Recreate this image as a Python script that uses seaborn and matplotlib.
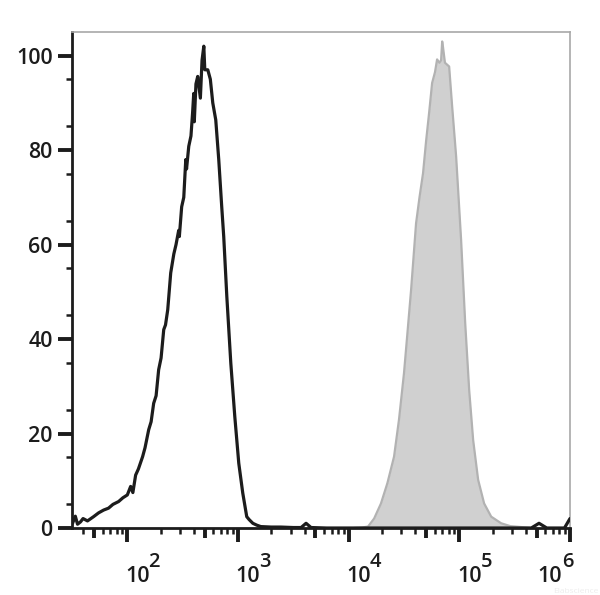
import numpy as np
import pandas as pd
import matplotlib
matplotlib.use("Agg")
import matplotlib.pyplot as plt
import matplotlib.ticker as mticker
import seaborn as sns

# control (unstained) - black outline, x given as log10 of intensity
ctrl_exp = [1.505, 1.53, 1.55, 1.577, 1.60, 1.64, 1.695, 1.74, 1.786, 1.83,
            1.87, 1.921, 1.96, 2.00, 2.030, 2.05, 2.075, 2.10, 2.138, 2.16,
            2.193, 2.215, 2.238, 2.26, 2.283, 2.305, 2.329, 2.345, 2.365, 2.392,
            2.42, 2.44, 2.464, 2.47, 2.491, 2.51, 2.528, 2.535, 2.555, 2.575,
            2.590, 2.600, 2.605, 2.620, 2.636, 2.66, 2.675, 2.691, 2.70, 2.727,
            2.75, 2.772, 2.799, 2.826, 2.853, 2.871, 2.899, 2.935, 2.971, 3.007,
            3.043, 3.079, 3.10, 3.134, 3.17, 3.206, 3.30, 3.387, 3.50, 3.57,
            3.615, 3.66, 3.80, 4.02, 4.5, 4.93, 5.3, 5.65, 5.72, 5.79,
            5.95, 6.0]
ctrl_val = [1.0, 2.5, 0.8, 1.3, 2.0, 1.5, 2.4, 3.2, 3.8, 4.2,
            5.0, 5.6, 6.4, 7.0, 8.8, 7.5, 11.2, 12.5, 15.1, 17.0,
            20.8, 22.5, 26.4, 28.0, 33.5, 36.0, 42.0, 43.0, 46.2, 54.0,
            58.0, 60.0, 63.0, 61.7, 68.0, 70.0, 78.0, 76.0, 80.8, 83.0,
            88.0, 92.0, 86.0, 94.0, 95.6, 91.0, 99.0, 102.0, 97.0, 97.0,
            95.0, 90.0, 86.4, 78.0, 68.0, 61.7, 49.0, 34.9, 23.6, 13.7,
            7.4, 2.4, 1.8, 1.0, 0.6, 0.3, 0.2, 0.2, 0.1, 0.1,
            1.0, 0.1, 0.0, 0.0, 0.0, 0.0, 0.0, 0.0, 1.0, 0.0,
            0.0, 2.0]

# stained sample - grey filled
stain_exp = [4.05, 4.12, 4.175, 4.23, 4.292, 4.35, 4.410, 4.455, 4.500, 4.530,
             4.564, 4.609, 4.64, 4.672, 4.70, 4.727, 4.754, 4.78, 4.799, 4.82,
             4.835, 4.845, 4.853, 4.87, 4.908, 4.935, 4.971, 5.016, 5.053, 5.089,
             5.125, 5.170, 5.224, 5.288, 5.378, 5.46, 5.559, 5.65]
stain_val = [0.0, 0.1, 0.3, 2.0, 5.2, 9.5, 15.1, 23.0, 32.8, 41.0,
             50.4, 64.5, 70.0, 75.1, 82.0, 87.9, 94.2, 96.5, 99.2, 98.5,
             99.0, 103.0, 101.7, 98.5, 97.7, 89.3, 78.7, 61.0, 43.4, 29.2,
             18.6, 10.2, 5.2, 2.4, 1.0, 0.4, 0.2, 0.0]

decades = [2, 3, 4, 5, 6]
y_major = [0, 20, 40, 60, 80, 100]

ctrl = pd.DataFrame({"x": 10 ** np.array(ctrl_exp), "y": ctrl_val})
stain = pd.DataFrame({"x": 10 ** np.array(stain_exp), "y": stain_val})

sns.set_style("white")
plt.rcParams["font.family"] = ["Open Sans", "DejaVu Sans"]
FW = "semibold"
INK = "#1c1c1c"

fig = plt.figure(figsize=(6, 5.95), dpi=100)
ax = fig.add_axes([0.12, 0.1126, 0.83, 0.8336])

ax.fill_between(stain["x"], stain["y"], color="#d0d0d0", linewidth=0, zorder=1)
sns.lineplot(data=stain, x="x", y="y", ax=ax, color="#b2b2b2", linewidth=1.6, zorder=2)
sns.lineplot(data=ctrl, x="x", y="y", ax=ax, color=INK, linewidth=2.3, zorder=3)

ax.set_xscale("log")
ax.set_xlim(10 ** 1.5, 10 ** 6)
ax.set_ylim(0, 105)
ax.set_xlabel("")
ax.set_ylabel("")

# spines
for s in ["top", "right"]:
    ax.spines[s].set_color("#a8a8a8")
    ax.spines[s].set_linewidth(1.2)
for s in ["left", "bottom"]:
    ax.spines[s].set_color(INK)
    ax.spines[s].set_linewidth(2.0)

# y ticks
ax.yaxis.set_major_locator(mticker.FixedLocator(y_major))
ax.yaxis.set_minor_locator(mticker.FixedLocator([v for v in range(5, 100, 10)]))
ax.tick_params(axis="y", which="major", length=10, width=2.8, color=INK,
               labelsize=15.5, pad=4, direction="out", left=True)
ax.tick_params(axis="y", which="minor", length=4.5, width=1.8, color=INK,
               direction="out", left=True)
ax.set_yticklabels([str(v) for v in y_major], color=INK, fontweight=FW)

# x ticks: decades + 5x as majors (different lengths), rest minors
xmaj = [10.0 ** d for d in decades] + [5 * 10.0 ** d for d in [1, 2, 3, 4, 5]]
xmaj = sorted(xmaj)
ax.xaxis.set_major_locator(mticker.FixedLocator(xmaj))
ax.xaxis.set_minor_locator(mticker.LogLocator(base=10, subs=[2, 3, 4, 6, 7, 8, 9], numticks=20))
ax.xaxis.set_minor_formatter(mticker.NullFormatter())
ax.set_xticklabels([""] * len(xmaj))
ax.tick_params(axis="x", which="major", length=10, width=2.8, color=INK,
               direction="out", bottom=True)
ax.tick_params(axis="x", which="minor", length=4.5, width=1.8, color=INK,
               direction="out", bottom=True)
for t, v in zip(ax.xaxis.get_major_ticks(), xmaj):
    if not np.isclose(np.log10(v), round(np.log10(v))):
        t.tick1line.set_markersize(7)

# decade labels: "10" with a large exponent
for d in decades:
    if d == 6:
        dx_base, dx_exp = -20, -2
    else:
        dx_base, dx_exp = 10, 27
    ax.annotate("10", xy=(10.0 ** d, 0), xycoords=("data", "axes fraction"),
                xytext=(dx_base, -54), textcoords="offset pixels",
                ha="center", va="baseline", fontsize=15.5, fontweight=FW,
                color=INK, annotation_clip=False)
    ax.annotate(str(d), xy=(10.0 ** d, 0), xycoords=("data", "axes fraction"),
                xytext=(dx_exp, -39), textcoords="offset pixels",
                ha="center", va="baseline", fontsize=14.5, fontweight=FW,
                color=INK, annotation_clip=False)

# faint watermark
fig.text(0.998, 0.0, "Elabscience", fontsize=6, color="#ededed",
         ha="right", va="bottom")

fig.savefig("out.png", dpi=100)
